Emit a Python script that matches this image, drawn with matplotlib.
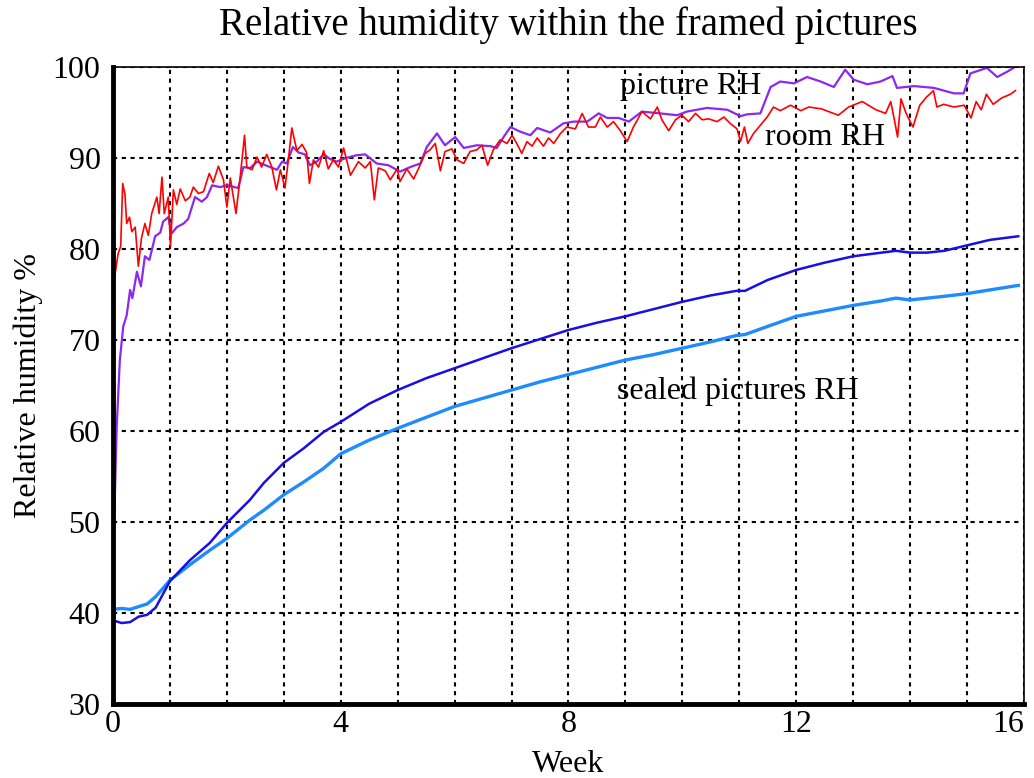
import matplotlib
matplotlib.use("Agg")
import matplotlib.pyplot as plt
import numpy as np

plt.rcParams['font.family'] = ['Liberation Serif', 'DejaVu Serif']

# picture RH (purple)
pic_week = [0.02, 0.065, 0.12, 0.18, 0.24, 0.30, 0.34, 0.42, 0.49, 0.56, 0.64, 0.74, 0.83, 0.88,
            0.97, 1.03, 1.12, 1.24, 1.32, 1.44, 1.56, 1.65, 1.74, 1.88, 2.00, 2.20, 2.29, 2.41,
            2.53, 2.64, 2.76, 2.88, 2.97, 3.05, 3.16, 3.26, 3.37, 3.46, 3.58, 3.70, 3.81, 3.93,
            4.05, 4.15, 4.28, 4.43, 4.63, 4.84, 5.04, 5.22, 5.40, 5.51, 5.69, 5.83, 6.01, 6.16,
            6.39, 6.63, 6.74, 6.86, 6.98, 7.15, 7.33, 7.45, 7.68, 7.91, 8.09, 8.33, 8.53, 8.68,
            8.88, 9.06, 9.29, 9.61, 9.91, 10.08, 10.43, 10.79, 11.02, 11.14, 11.37, 11.55, 11.72,
            11.96, 12.19, 12.43, 12.66, 12.86, 13.01, 13.25, 13.48, 13.69, 13.77, 14.07, 14.42,
            14.77, 14.94, 15.06, 15.35, 15.53, 15.71, 15.84]
pic_rh = [50.0, 60.5, 67.8, 71.5, 72.7, 75.5, 74.6, 77.5, 75.9, 79.2, 78.8, 81.4, 81.8, 83.0,
          83.5, 81.7, 82.4, 82.8, 83.3, 85.7, 85.2, 85.7, 87.0, 86.8, 87.0, 86.7, 89.0, 88.9,
          89.6, 89.3, 89.0, 88.7, 89.6, 89.4, 91.2, 90.6, 90.4, 89.2, 89.6, 90.4, 89.9, 89.6,
          89.9, 90.1, 90.3, 90.4, 89.4, 89.2, 88.5, 89.0, 89.4, 91.2, 92.7, 91.4, 92.3, 91.1,
          91.4, 91.3, 91.1, 92.3, 93.4, 92.9, 92.5, 93.3, 92.8, 93.8, 94.0, 94.0, 94.9, 94.4,
          94.4, 94.0, 95.1, 94.9, 94.7, 95.1, 95.5, 95.3, 94.6, 94.8, 94.9, 97.8, 98.4,
          98.2, 98.9, 98.4, 97.8, 99.7, 98.6, 98.1, 98.4, 99.0, 97.7, 97.9, 97.7,
          97.1, 97.1, 99.3, 99.9, 98.9, 99.5, 100.0]

# room RH (red)
room_week = [0.03, 0.09, 0.135, 0.17, 0.21, 0.24, 0.29, 0.33, 0.39, 0.445, 0.50, 0.56, 0.62, 0.68,
             0.77, 0.81, 0.86, 0.90, 0.97, 1.01, 1.06, 1.12, 1.18, 1.27, 1.35, 1.41, 1.50, 1.59,
             1.69, 1.76, 1.85, 1.94, 2.00, 2.06, 2.16, 2.23, 2.31, 2.35, 2.44, 2.53, 2.61, 2.70,
             2.79, 2.87, 2.94, 3.02, 3.08, 3.14, 3.23, 3.32, 3.40, 3.45, 3.52, 3.61, 3.70, 3.78,
             3.87, 3.96, 4.05, 4.17, 4.31, 4.43, 4.52, 4.59, 4.66, 4.78, 4.87, 4.99, 5.04, 5.16,
             5.28, 5.37, 5.48, 5.57, 5.66, 5.75, 5.83, 5.95, 6.04, 6.16, 6.27, 6.39, 6.48, 6.58,
             6.68, 6.80, 6.92, 7.01, 7.09, 7.18, 7.27, 7.36, 7.45, 7.56, 7.65, 7.74, 7.86, 7.97,
             8.12, 8.24, 8.35, 8.47, 8.56, 8.68, 8.79, 8.91, 9.03, 9.14, 9.29, 9.44, 9.56, 9.64,
             9.76, 9.88, 9.99, 10.11, 10.23, 10.35, 10.46, 10.61, 10.73, 10.84, 10.96, 11.02,
             11.09, 11.15, 11.25, 11.37, 11.49, 11.60, 11.72, 11.90, 12.08, 12.22, 12.44, 12.74,
             12.92, 13.16, 13.40, 13.57, 13.66, 13.73, 13.78, 13.84, 13.93, 14.05, 14.17, 14.29,
             14.41, 14.47, 14.59, 14.77, 14.95, 15.07, 15.16, 15.25, 15.34, 15.46, 15.61, 15.76,
             15.85]
room_rh = [77.0, 79.5, 80.3, 87.2, 86.0, 82.8, 83.5, 81.9, 82.4, 78.1, 81.2, 82.8, 81.5, 83.9,
           85.7, 83.9, 87.9, 83.9, 85.7, 80.3, 86.5, 84.9, 86.6, 85.3, 85.7, 86.8, 86.1, 86.3,
           88.3, 87.3, 89.1, 87.6, 84.6, 87.8, 83.9, 87.7, 92.5, 89.0, 88.7, 90.1, 89.0, 90.4,
           89.0, 86.5, 88.7, 86.7, 89.8, 93.3, 90.8, 91.5, 90.6, 87.2, 89.8, 89.0, 90.8, 88.8,
           89.8, 89.0, 91.1, 88.1, 89.6, 88.9, 89.6, 85.4, 88.9, 88.6, 87.6, 88.8, 87.4, 88.8,
           87.7, 88.9, 90.5, 90.9, 91.6, 88.6, 90.7, 91.0, 89.8, 89.4, 90.7, 90.9, 91.4, 89.2,
           90.9, 92.0, 91.6, 92.5, 91.6, 90.5, 91.8, 91.3, 92.2, 91.3, 92.2, 91.6, 92.7, 93.4,
           93.2, 94.9, 93.4, 93.4, 94.5, 93.4, 94.0, 93.0, 91.8, 93.4, 95.1, 94.3, 95.6, 94.2,
           93.0, 94.2, 94.7, 94.0, 94.9, 94.2, 94.3, 94.0, 94.5, 93.8, 93.2, 91.8,
           93.4, 91.6, 92.7, 93.6, 94.5, 95.6, 95.2, 95.8, 95.2, 95.6, 95.4, 94.7,
           95.6, 96.2, 95.3, 94.9, 96.2, 94.0, 92.3, 96.5, 94.9, 93.4, 95.8, 96.7,
           97.4, 95.6, 95.9, 95.6, 95.8, 94.4, 96.2, 95.3, 97.0, 95.9, 96.6, 97.0,
           97.4]

# sealed pictures RH (two blue lines)
sealed_week = [0.0, 0.15, 0.3, 0.45, 0.6, 0.75, 1.0, 1.35, 1.7, 2.0, 2.4, 2.65, 3.0, 3.35, 3.7,
               4.0, 4.5, 5.0, 5.5, 6.0, 6.5, 7.0, 7.5, 8.0, 8.5, 9.0, 9.5, 10.0, 10.5, 10.95,
               11.1, 11.5, 12.0, 12.5, 13.0, 13.5, 13.75, 14.0, 14.3, 14.6, 15.0, 15.4, 15.9]
sealed_a = [39.2, 38.9, 39.0, 39.6, 39.8, 40.6, 43.5, 45.8, 47.7, 49.9, 52.4, 54.3, 56.5, 58.1,
            59.9, 61.0, 63.0, 64.5, 65.8, 66.9, 68.0, 69.1, 70.1, 71.1, 71.9, 72.6, 73.4, 74.2,
            74.9, 75.4, 75.4, 76.6, 77.7, 78.5, 79.2, 79.6, 79.8, 79.6, 79.6, 79.8, 80.4, 81.0,
            81.4]
sealed_b = [40.4, 40.5, 40.4, 40.7, 41.0, 41.8, 43.6, 45.3, 46.9, 48.2, 50.2, 51.3, 53.0, 54.4,
            55.9, 57.5, 59.0, 60.3, 61.5, 62.7, 63.6, 64.5, 65.4, 66.2, 67.0, 67.8, 68.4, 69.1,
            69.8, 70.5, 70.6, 71.5, 72.6, 73.2, 73.8, 74.3, 74.6, 74.4, 74.6, 74.8, 75.1, 75.5,
            76.0]

fig = plt.figure(figsize=(10.34, 7.78), dpi=100)
ax = fig.add_axes([0.1093, 0.0951, 0.8810, 0.8188])

ax.plot(sealed_week, sealed_b, color='#1e8cff', lw=2.4)
ax.plot(sealed_week, sealed_a, color='#1a0ee6', lw=1.8)
ax.plot(pic_week, pic_rh, color='#8c28f0', lw=1.6)
ax.plot(room_week, room_rh, color='#ff0000', lw=1.2)

ax.set_xlim(0, 16)
ax.set_ylim(30, 100)
ax.set_xticks([0, 4, 8, 12, 16])
ax.set_xticks(np.arange(0, 17, 1), minor=True)
ax.set_yticks(np.arange(30, 101, 10))
ax.tick_params(which='both', length=0, labelsize=23)
ax.tick_params(axis='y', pad=9)
ax.tick_params(axis='x', pad=4)
ax.get_xticklabels()[-1].set_horizontalalignment('right')
ax.grid(which='both', color='black', linestyle=(0, (2, 2.2)), lw=1.5)

for side in ['left', 'bottom']:
    ax.spines[side].set_linewidth(3.5)
for side in ['top', 'right']:
    ax.spines[side].set_linewidth(1.2)

ax.set_xlabel('Week', fontsize=23, labelpad=8)
ax.set_ylabel('Relative humidity %', fontsize=23, labelpad=7)
ax.set_title('Relative humidity within the framed pictures', fontsize=28, pad=23)

ax.text(10.14, 97.9, 'picture RH', fontsize=23, ha='center', va='center')
ax.text(12.5, 92.2, 'room RH', fontsize=23, ha='center', va='center')
ax.text(10.97, 64.4, 'sealed pictures RH', fontsize=23, ha='center', va='center')

fig.savefig('out.png', dpi=100)
